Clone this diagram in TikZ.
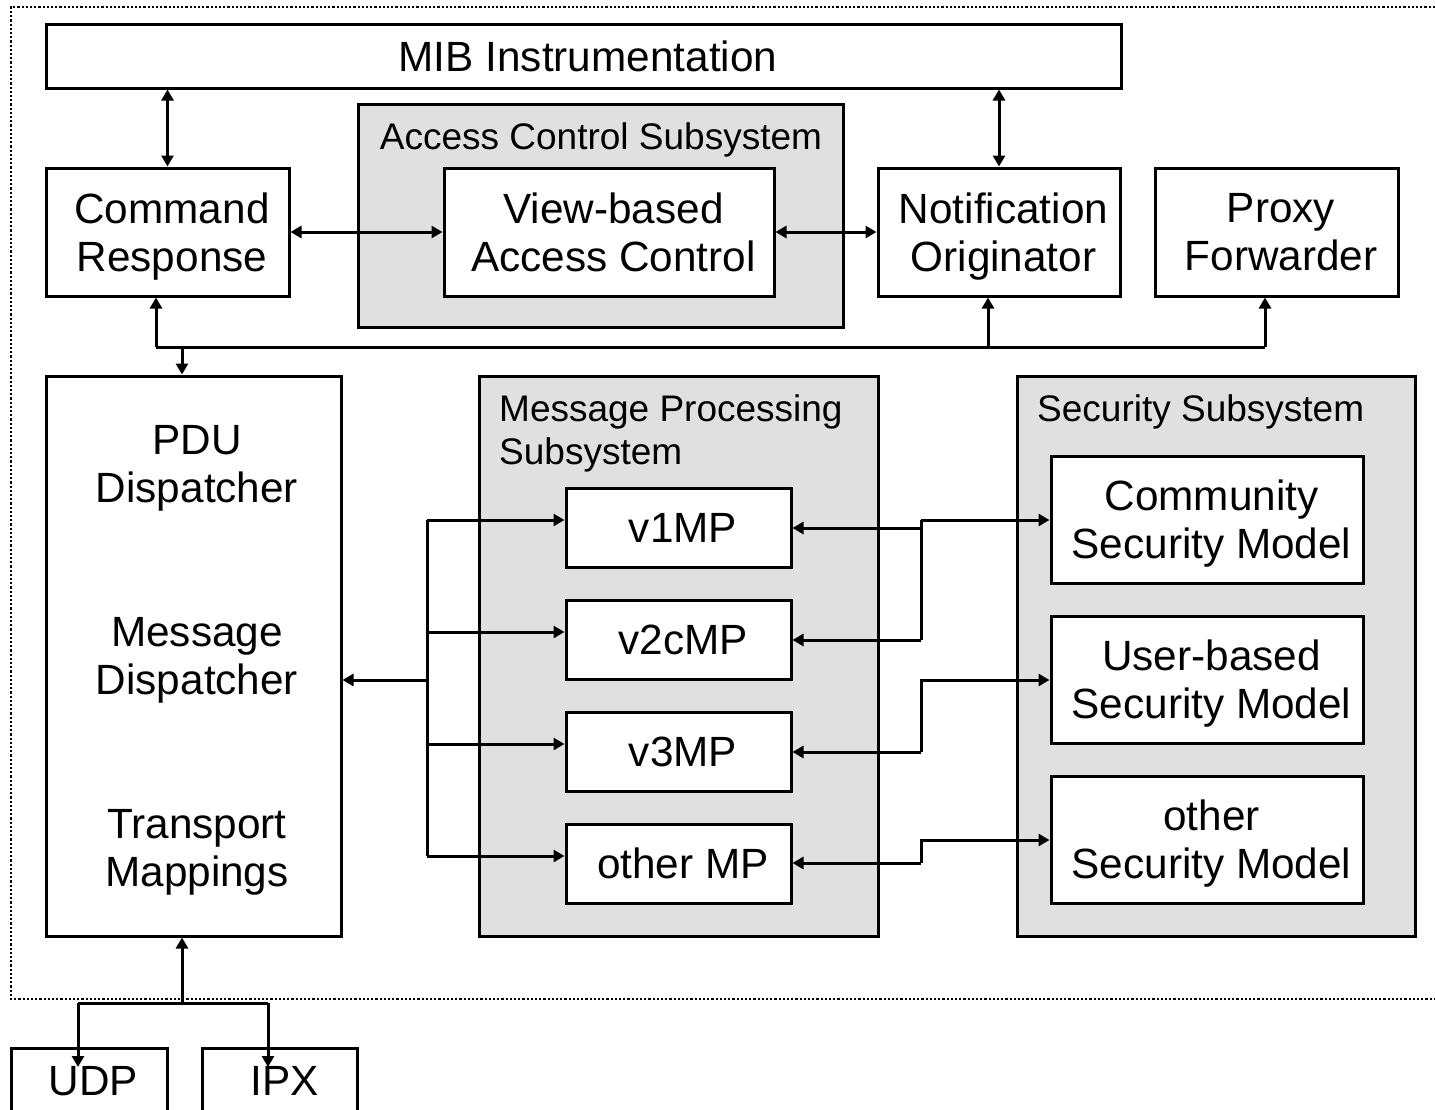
\documentclass[tikz,border=0pt]{standalone}
\usepackage{fontspec}
\setmainfont{Liberation Sans}
\usetikzlibrary{arrows.meta}
\definecolor{subgray}{HTML}{E0E0E0}
\newcommand\bx[5]{%
  \node[box,minimum width=#3,minimum height=#4] (#1) at (#2) {};
  \node[txt] (#1t) at ([xshift=4.5pt]#1.center) {#5};}
\begin{document}
\begin{tikzpicture}[x=1pt,y=-1pt,
  box/.style={draw,line width=3pt,fill=white,inner sep=0pt},
  txt/.style={inner sep=0pt,align=center,text depth=0pt,
    font=\fontsize{42.3}{48}\selectfont},
  subbox/.style={draw,line width=3pt,fill=subgray,inner sep=0pt},
  lab/.style={font=\fontsize{37}{43}\selectfont,inner sep=0pt},
  conn/.style={line width=3pt},
  tip/.style={conn,-{Triangle[length=11pt,width=12pt]}},
  dbl/.style={conn,{Triangle[length=11pt,width=12pt]}-{Triangle[length=11pt,width=12pt]}}]
\useasboundingbox (0,0) rectangle (1435,1109);
\fill[white] (0,0) rectangle (1435,1109);
% frame
\draw[line width=2.4pt,dash pattern=on 2.2pt off 2pt] (1435,7) -- (11,7) -- (11,999) -- (1435,999);
% top row
\bx{mib}{583.5,56}{1075}{64}{MIB Instrumentation}
\bx{cr}{167.5,232}{243}{128}{Command\\Response}
\node[subbox,minimum width=485,minimum height=223] (acs) at (600.5,215.5) {};
\node[lab,anchor=base] (acsl) at (601,149) {Access Control Subsystem};
\bx{vac}{609,232}{330}{128}{View-based\\Access Control}
\bx{no}{999,232}{242}{128}{Notification\\Originator}
\bx{pf}{1276.5,232}{243}{128}{Proxy\\Forwarder}
% dispatcher
\node[box,minimum width=295,minimum height=560] (pdu) at (193.5,656) {};
\node[txt] (pdut) at (197,464) {PDU\\Dispatcher};
\node[txt] (mdt) at (197,656) {Message\\Dispatcher};
\node[txt] (tmt) at (197,848) {Transport\\Mappings};
% message processing
\node[subbox,minimum width=399,minimum height=560] (mps) at (678.5,656) {};
\node[lab,anchor=base west] (mpl1) at (499,421) {Message Processing};
\node[lab,anchor=base west] (mpl2) at (499,464) {Subsystem};
\bx{v1}{678.5,527.5}{225}{79}{v1MP}
\bx{v2}{678.5,639.5}{225}{79}{v2cMP}
\bx{v3}{678.5,751.5}{225}{79}{v3MP}
\bx{omp}{678.5,863.5}{225}{79}{other MP}
% security
\node[subbox,minimum width=398,minimum height=560] (ss) at (1216,656) {};
\node[lab,anchor=base west] (ssl) at (1037,421) {Security Subsystem};
\bx{csm}{1207,519.5}{312}{127}{Community\\Security Model}
\bx{usm}{1207,679.5}{312}{127}{User-based\\Security Model}
\bx{osm}{1207,839.5}{312}{127}{other\\Security Model}
% transports
\node[box,minimum width=156,minimum height=66] (udp) at (89,1081) {};
\node[txt] (udpt) at (93.5,1081) {UDP};
\node[box,minimum width=155,minimum height=66] (ipx) at (279.5,1081) {};
\node[txt] (ipxt) at (284.5,1081) {IPX};
% connectors top
\draw[dbl] (cr.north) -- (cr.north |- mib.south);
\draw[dbl] (no.north) -- (no.north |- mib.south);
\draw[dbl] (cr.east) -- (vac.west);
\draw[dbl] (vac.east) -- (no.west);
% bus
\coordinate (b1) at (156,347);
\coordinate (bd) at (182,347);
\coordinate (bn) at (988,347);
\coordinate (bp) at (1265,347);
\draw[conn] (b1) -- (bp);
\draw[tip] (b1) -- (b1 |- cr.south);
\draw[tip] (bn) -- (bn |- no.south);
\draw[tip] (bp) -- (bp |- pf.south);
\draw[tip] (bd) -- (bd |- pdu.north);
% MP trunk
\coordinate (t1) at (427,520);
\coordinate (t2) at (427,632);
\coordinate (t0) at (427,680);
\coordinate (t3) at (427,744);
\coordinate (t4) at (427,856);
\draw[conn] (t1) -- (t4);
\draw[tip] (t1) -- (t1 -| v1.west);
\draw[tip] (t2) -- (t2 -| v2.west);
\draw[tip] (t3) -- (t3 -| v3.west);
\draw[tip] (t4) -- (t4 -| omp.west);
\draw[tip] (t0) -- (t0 -| pdu.east);
% security links
\coordinate (s1) at (921,520);
\coordinate (s1a) at (921,528);
\coordinate (s2) at (921,640);
\coordinate (s3) at (921,680);
\coordinate (s3a) at (921,752);
\coordinate (s4) at (921,840);
\coordinate (s4a) at (921,863);
\draw[conn] (s1) -- (s2);
\draw[tip] (s1) -- (s1 -| csm.west);
\draw[tip] (s1a) -- (s1a -| v1.east);
\draw[tip] (s2) -- (s2 -| v2.east);
\draw[tip] (s3a) -- (s3) -- (s3 -| usm.west);
\draw[tip] (s3a) -- (s3a -| v3.east);
\draw[tip] (s4a) -- (s4) -- (s4 -| osm.west);
\draw[tip] (s4a) -- (s4a -| omp.east);
% transports links
\coordinate (u0) at (182,1003);
\coordinate (u1) at (78,1003);
\coordinate (u2) at (268,1003);
\coordinate (ue1) at (78,1067);
\coordinate (ue2) at (268,1067);
\draw[tip] (u0) -- (u0 |- pdu.south);
\draw[conn] (u1) -- (u2);
\draw[tip] (u1) -- (ue1);
\draw[tip] (u2) -- (ue2);
\end{tikzpicture}
\end{document}
